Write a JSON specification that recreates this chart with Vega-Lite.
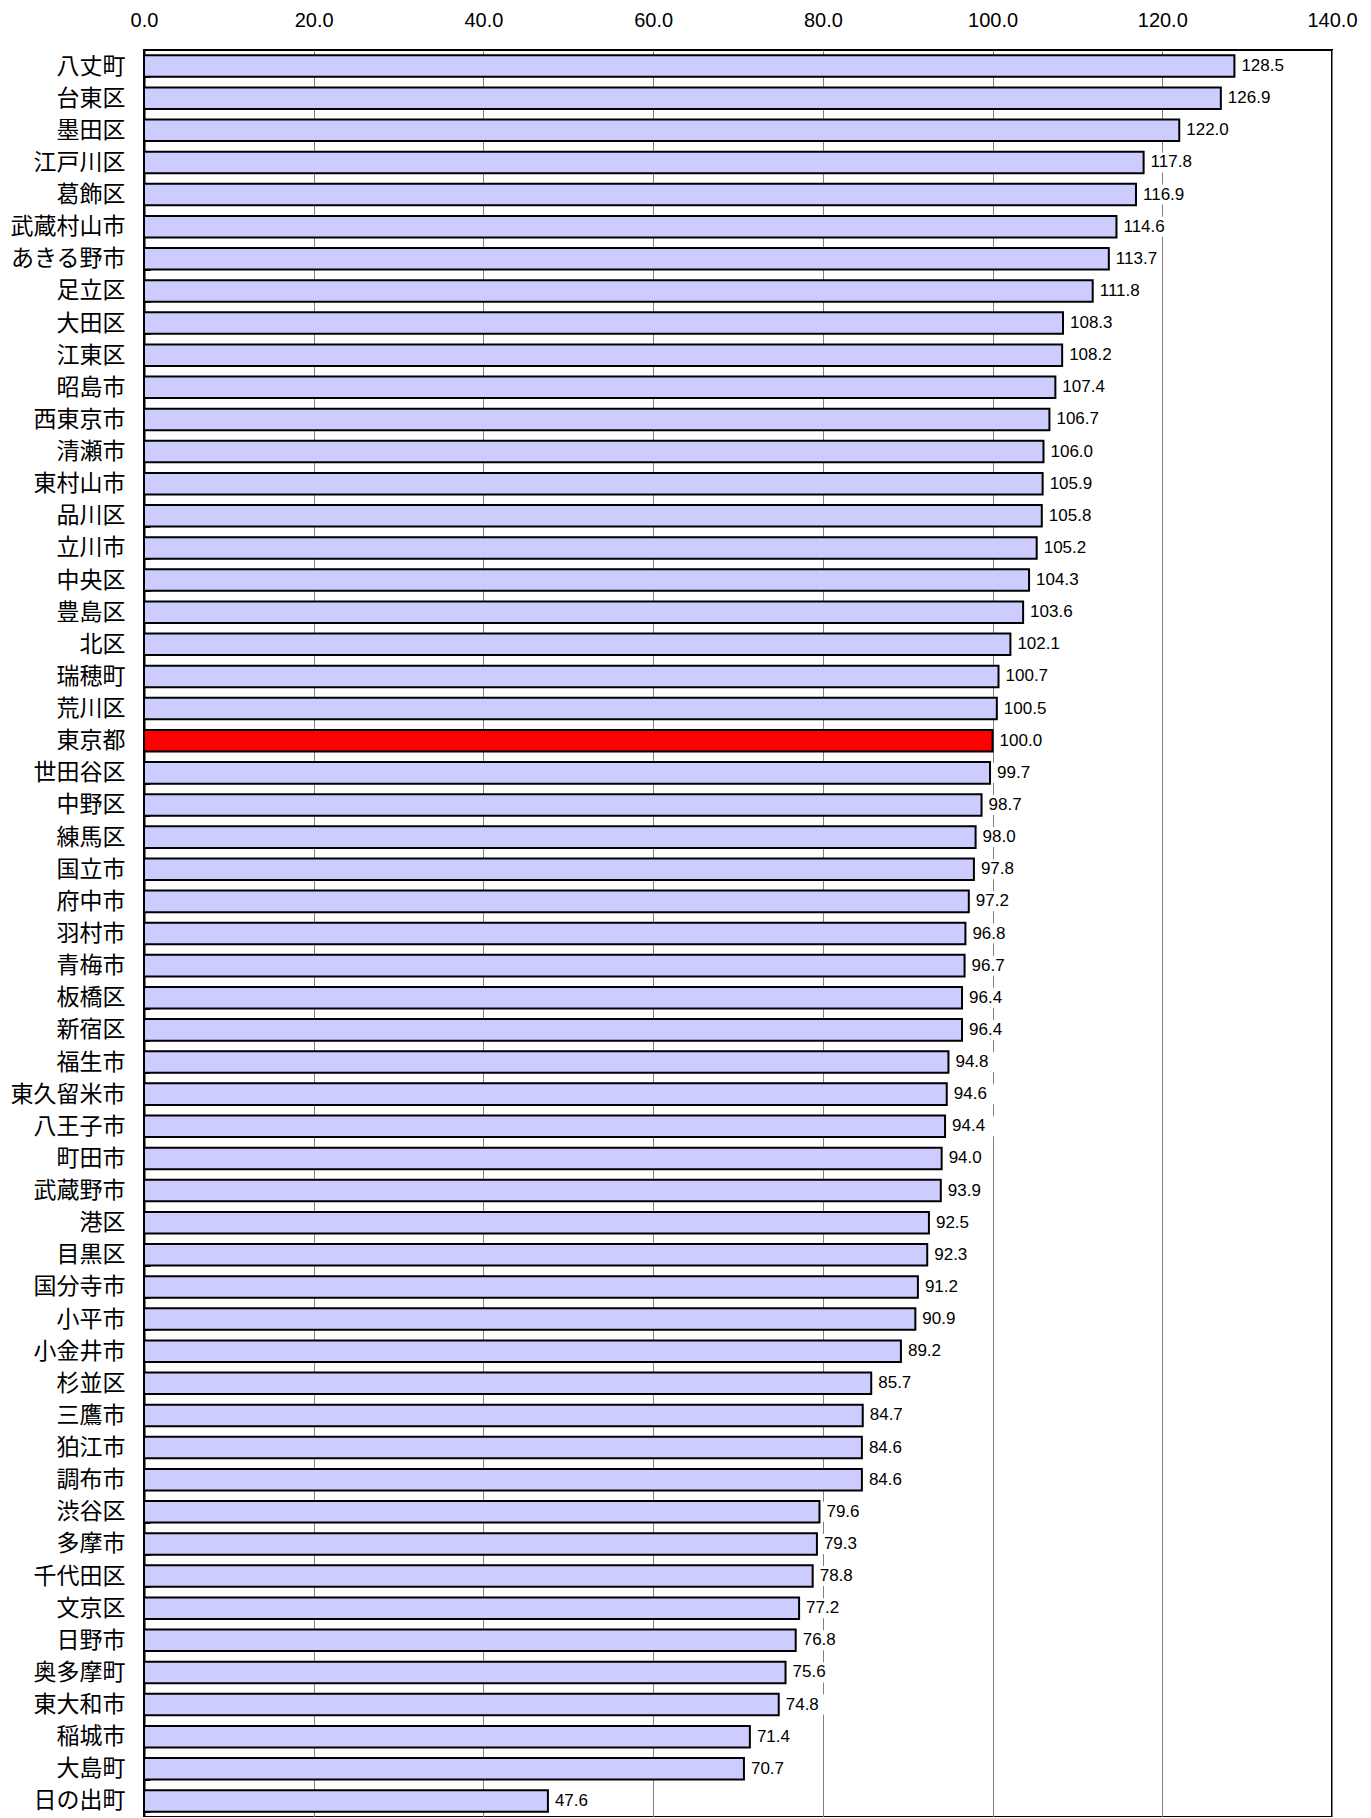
{
  "$schema": "https://vega.github.io/schema/vega-lite/v6.json",
  "autosize": {"type": "none"},
  "padding": {"left": 144, "top": 50, "right": 39, "bottom": 0},
  "width": 1188,
  "height": 1767,
  "background": "white",
  "config": {
    "view": {"stroke": "black", "strokeWidth": 2},
    "font": "Liberation Sans"
  },
  "data": {"values": [
    {"name": "八丈町", "value": 128.5, "hl": "n"},
    {"name": "台東区", "value": 126.9, "hl": "n"},
    {"name": "墨田区", "value": 122.0, "hl": "n"},
    {"name": "江戸川区", "value": 117.8, "hl": "n"},
    {"name": "葛飾区", "value": 116.9, "hl": "n"},
    {"name": "武蔵村山市", "value": 114.6, "hl": "n"},
    {"name": "あきる野市", "value": 113.7, "hl": "n"},
    {"name": "足立区", "value": 111.8, "hl": "n"},
    {"name": "大田区", "value": 108.3, "hl": "n"},
    {"name": "江東区", "value": 108.2, "hl": "n"},
    {"name": "昭島市", "value": 107.4, "hl": "n"},
    {"name": "西東京市", "value": 106.7, "hl": "n"},
    {"name": "清瀬市", "value": 106.0, "hl": "n"},
    {"name": "東村山市", "value": 105.9, "hl": "n"},
    {"name": "品川区", "value": 105.8, "hl": "n"},
    {"name": "立川市", "value": 105.2, "hl": "n"},
    {"name": "中央区", "value": 104.3, "hl": "n"},
    {"name": "豊島区", "value": 103.6, "hl": "n"},
    {"name": "北区", "value": 102.1, "hl": "n"},
    {"name": "瑞穂町", "value": 100.7, "hl": "n"},
    {"name": "荒川区", "value": 100.5, "hl": "n"},
    {"name": "東京都", "value": 100.0, "hl": "y"},
    {"name": "世田谷区", "value": 99.7, "hl": "n"},
    {"name": "中野区", "value": 98.7, "hl": "n"},
    {"name": "練馬区", "value": 98.0, "hl": "n"},
    {"name": "国立市", "value": 97.8, "hl": "n"},
    {"name": "府中市", "value": 97.2, "hl": "n"},
    {"name": "羽村市", "value": 96.8, "hl": "n"},
    {"name": "青梅市", "value": 96.7, "hl": "n"},
    {"name": "板橋区", "value": 96.4, "hl": "n"},
    {"name": "新宿区", "value": 96.4, "hl": "n"},
    {"name": "福生市", "value": 94.8, "hl": "n"},
    {"name": "東久留米市", "value": 94.6, "hl": "n"},
    {"name": "八王子市", "value": 94.4, "hl": "n"},
    {"name": "町田市", "value": 94.0, "hl": "n"},
    {"name": "武蔵野市", "value": 93.9, "hl": "n"},
    {"name": "港区", "value": 92.5, "hl": "n"},
    {"name": "目黒区", "value": 92.3, "hl": "n"},
    {"name": "国分寺市", "value": 91.2, "hl": "n"},
    {"name": "小平市", "value": 90.9, "hl": "n"},
    {"name": "小金井市", "value": 89.2, "hl": "n"},
    {"name": "杉並区", "value": 85.7, "hl": "n"},
    {"name": "三鷹市", "value": 84.7, "hl": "n"},
    {"name": "狛江市", "value": 84.6, "hl": "n"},
    {"name": "調布市", "value": 84.6, "hl": "n"},
    {"name": "渋谷区", "value": 79.6, "hl": "n"},
    {"name": "多摩市", "value": 79.3, "hl": "n"},
    {"name": "千代田区", "value": 78.8, "hl": "n"},
    {"name": "文京区", "value": 77.2, "hl": "n"},
    {"name": "日野市", "value": 76.8, "hl": "n"},
    {"name": "奥多摩町", "value": 75.6, "hl": "n"},
    {"name": "東大和市", "value": 74.8, "hl": "n"},
    {"name": "稲城市", "value": 71.4, "hl": "n"},
    {"name": "大島町", "value": 70.7, "hl": "n"},
    {"name": "日の出町", "value": 47.6, "hl": "n"}
  ]},
  "encoding": {
    "y": {
      "field": "name", "type": "nominal", "sort": null,
      "scale": {"paddingInner": 0.33, "paddingOuter": 0.165},
      "axis": {
        "title": null, "domain": true, "domainColor": "black", "domainWidth": 2,
        "ticks": true, "tickBand": "extent", "tickSize": -6, "tickColor": "black", "tickWidth": 1,
        "labelFont": "Noto Sans CJK JP", "labelFontSize": 23, "labelColor": "black",
        "labelPadding": 25, "labelLimit": 200
      }
    }
  },
  "layer": [
    {
      "mark": {"type": "bar", "stroke": "black", "strokeWidth": 2},
      "encoding": {
        "x": {
          "field": "value", "type": "quantitative",
          "scale": {"domain": [0, 140], "nice": false, "zero": true},
          "axis": {
            "orient": "top", "title": null, "format": ".1f",
            "values": [0, 20, 40, 60, 80, 100, 120, 140],
            "domain": false, "ticks": false, "labelPadding": 20,
            "labelFontSize": 20, "labelColor": "black", "labelFont": "Liberation Sans",
            "grid": true, "gridColor": "#808080", "gridWidth": 1,
            "labelFlush": false
          }
        },
        "fill": {
          "field": "hl", "type": "nominal",
          "scale": {"domain": ["n", "y"], "range": ["#CCCCFF", "#FF0000"]},
          "legend": null
        }
      }
    },
    {
      "mark": {"type": "point", "shape": "M0.3,-1H5V1H0.3Z", "size": 400, "filled": true, "fill": "white", "opacity": 1, "strokeWidth": 0},
      "encoding": {
        "x": {"field": "value", "type": "quantitative"}
      }
    },
    {
      "mark": {"type": "text", "align": "left", "baseline": "middle", "dx": 7, "fontSize": 17, "font": "Liberation Sans", "fill": "black"},
      "encoding": {
        "x": {"field": "value", "type": "quantitative"},
        "text": {"field": "value", "type": "quantitative", "format": ".1f"}
      }
    }
  ]
}
